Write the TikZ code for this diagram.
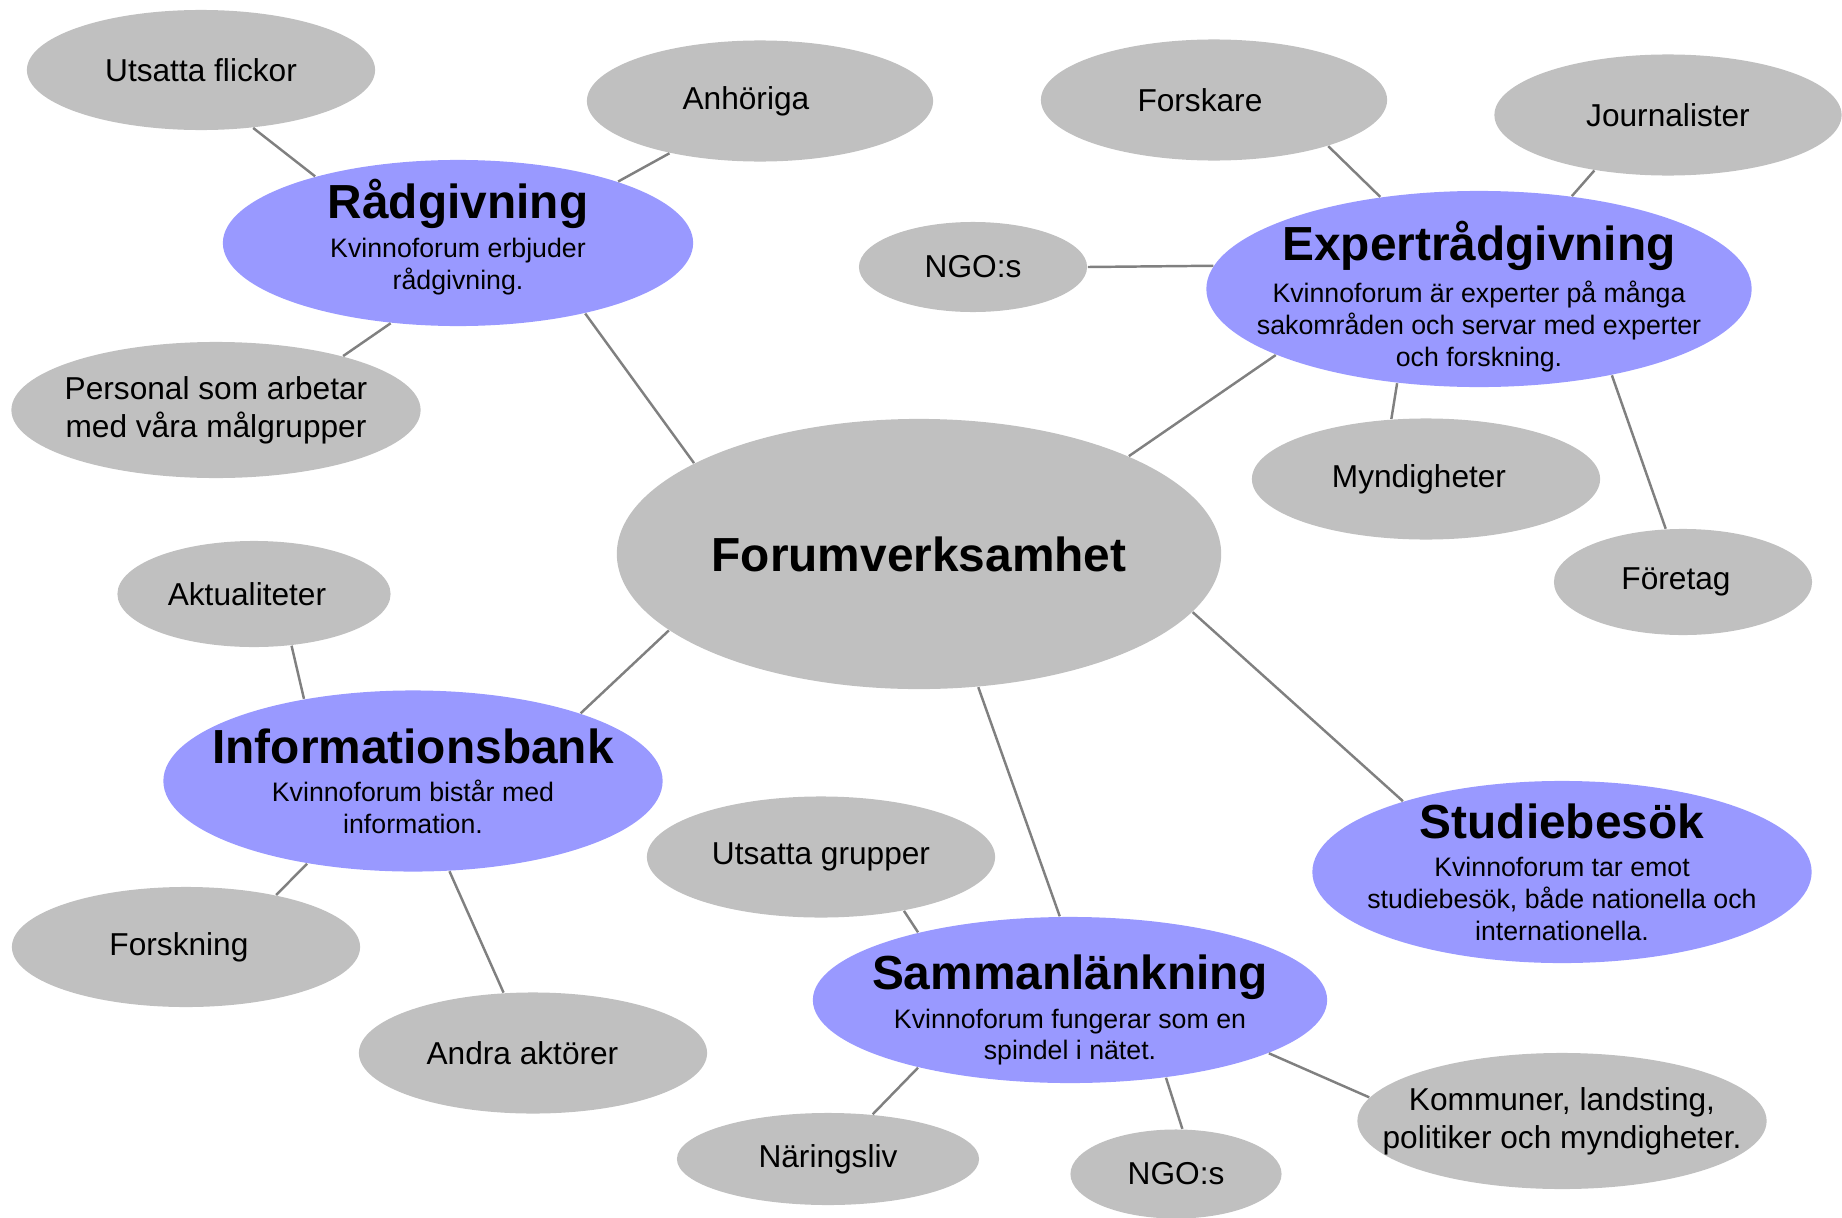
\documentclass[tikz,border=0pt]{standalone}
\usepackage{fontspec}
\setmainfont{Liberation Sans}
\usepackage{tikz}
\usetikzlibrary{shapes.geometric}
\definecolor{hubgray}{RGB}{192,192,192}
\definecolor{topicblue}{RGB}{153,153,255}
\definecolor{linkgray}{RGB}{128,128,128}
\newcommand{\topictext}[3][0pt]{{\fontsize{13.6}{15}\selectfont\bfseries\rule{0pt}{#1}#2}\\[2pt]#3}
\tikzset{
  hub/.style={ellipse,fill=hubgray,inner sep=-20pt,font=\fontsize{13.6}{15}\selectfont\bfseries},
  topic/.style={ellipse,fill=topicblue,align=center,inner sep=-20pt,font=\fontsize{7.6}{9}\selectfont},
  leaf/.style={ellipse,fill=hubgray,align=center,inner sep=-12pt,font=\fontsize{9}{10.7}\selectfont},
  link/.style={draw=linkgray,line width=0.7pt}
}
\begin{document}
\begin{tikzpicture}[x=0.01cm,y=-0.01cm]
\useasboundingbox (0,0) rectangle (1842,1218);
\node[hub,minimum width=6.04cm,minimum height=2.70cm] (forum) at (919,554) {Forumverksamhet};
\node[topic,minimum width=4.70cm,minimum height=1.66cm] (radg) at (458,243) {\topictext{Rådgivning}{Kvinnoforum erbjuder\\rådgivning.\rule[-5pt]{0pt}{5pt}}};
\node[topic,minimum width=5.45cm,minimum height=1.96cm] (expert) at (1479,289) {\topictext[15.5pt]{Expertrådgivning}{Kvinnoforum är experter på många\\sakområden och servar med experter\\och forskning.}};
\node[topic,minimum width=4.99cm,minimum height=1.81cm] (info) at (413,781) {\topictext{Informationsbank}{Kvinnoforum bistår med\\information.}};
\node[topic,minimum width=5.14cm,minimum height=1.66cm] (samman) at (1070,1000) {\topictext[15.5pt]{Sammanlänkning}{Kvinnoforum fungerar som en\\spindel i nätet.}};
\node[topic,minimum width=4.99cm,minimum height=1.82cm] (studie) at (1562,872) {\topictext{Studiebesök}{Kvinnoforum tar emot\\studiebesök, både nationella och\\internationella.}};
%
\node[leaf,minimum width=3.48cm,minimum height=1.20cm] (flickor) at (201,70) {Utsatta flickor};
\node[leaf,minimum width=3.46cm,minimum height=1.21cm] (anhoriga) at (760,101) {Anhöriga\hspace*{8pt}};
\node[leaf,minimum width=4.09cm,minimum height=1.36cm] (personal) at (216,410) {Personal som arbetar\\med våra målgrupper};
\node[leaf,minimum width=3.46cm,minimum height=1.21cm] (forskare) at (1214,100) {Forskare\hspace*{8pt}};
\node[leaf,minimum width=3.47cm,minimum height=1.21cm] (journ) at (1668,115) {Journalister};
\node[leaf,minimum width=2.28cm,minimum height=0.90cm] (ngotop) at (973,267) {NGO:s};
\node[leaf,minimum width=3.48cm,minimum height=1.21cm] (mynd) at (1426,479) {Myndigheter\hspace*{4pt}};
\node[leaf,minimum width=2.58cm,minimum height=1.06cm] (foretag) at (1683,582) {Företag\hspace*{4pt}};
\node[leaf,minimum width=2.73cm,minimum height=1.06cm] (aktuell) at (254,594) {Aktualiteter\hspace*{4pt}};
\node[leaf,minimum width=3.48cm,minimum height=1.20cm] (forskning) at (186,947) {Forskning\hspace*{4pt}};
\node[leaf,minimum width=3.48cm,minimum height=1.21cm] (andra) at (533,1053) {Andra aktörer\hspace*{6pt}};
\node[leaf,minimum width=3.48cm,minimum height=1.21cm] (grupper) at (821,857) {Utsatta grupper};
\node[leaf,minimum width=3.02cm,minimum height=0.92cm] (naring) at (828,1159) {Näringsliv};
\node[leaf,minimum width=2.11cm,minimum height=0.89cm] (ngobot) at (1176,1174) {NGO:s};
\node[leaf,minimum width=4.09cm,minimum height=1.36cm] (kommun) at (1562,1121) {Kommuner, landsting,\\politiker och myndigheter.};
%
\draw[link] (flickor.-48) -- (radg.155);
\draw[link] (anhoriga.210) -- (radg.21);
\draw[link] (personal.23) -- (radg.230);
\draw[link] (radg.-29) -- (forum.158);
\draw[link] (forskare.-22) -- (expert.137);
\draw[link] (journ.217) -- (expert.45);
\draw[link] (ngotop.0) -- (expert.175);
\draw[link] (expert.198) -- (forum.25);
\draw[link] (expert.229) -- (mynd.120);
\draw[link] (expert.-33) -- (foretag.108);
\draw[link] (aktuell.-54) -- (info.143);
\draw[link] (info.22) -- (forum.197);
\draw[link] (info.218) -- (forskning.30);
\draw[link] (info.-68) -- (andra.116);
\draw[link] (forum.-66) -- (samman.97);
\draw[link] (forum.-12) -- (studie.156);
\draw[link] (grupper.-33) -- (samman.156);
\draw[link] (samman.204) -- (naring.45);
\draw[link] (samman.-39) -- (ngobot.82);
\draw[link] (samman.-15) -- (kommun.173);
\end{tikzpicture}
\end{document}
